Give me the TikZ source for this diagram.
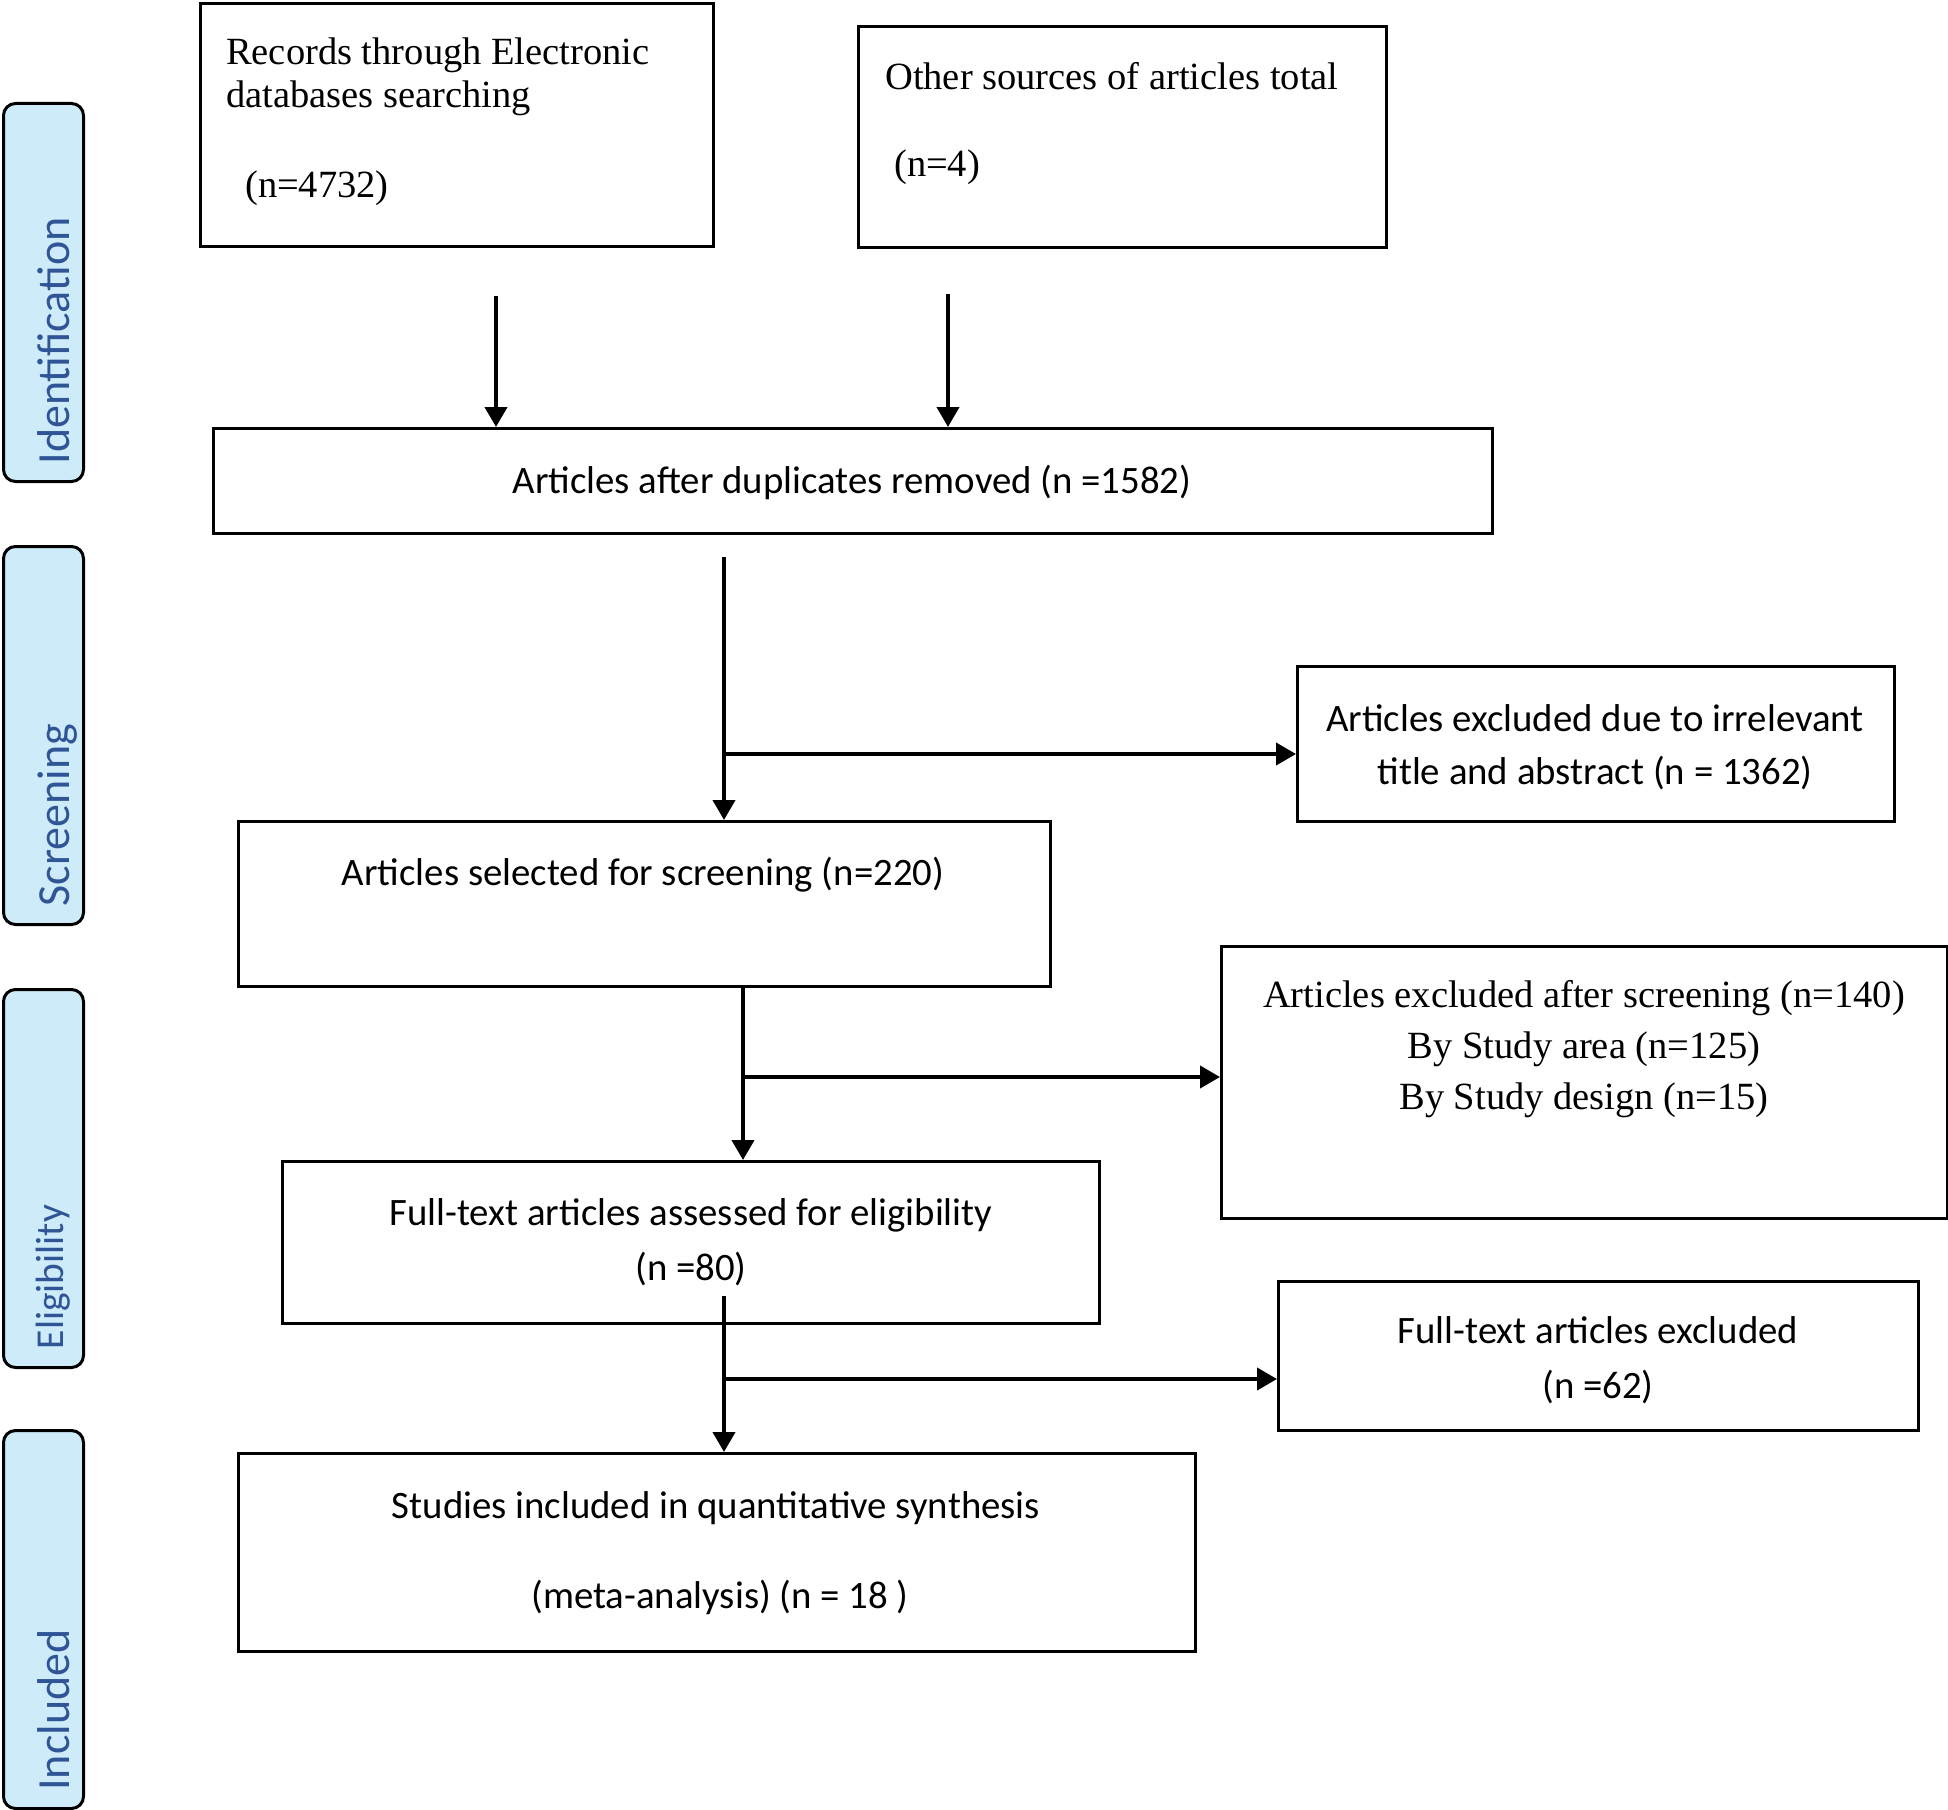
\documentclass[tikz,border=0pt]{standalone}
\usepackage{fontspec}
\usetikzlibrary{arrows.meta}
\newfontfamily\tnrfont{Liberation Serif}
\newfontfamily\calfont{Carlito}
\definecolor{tabfill}{RGB}{206,235,250}
\definecolor{tabtext}{RGB}{47,85,151}
\begin{document}
\begin{tikzpicture}[x=1pt,y=-1pt,
  box/.style={draw=black,line width=3pt,anchor=north west,inner sep=0pt},
  tab/.style={draw=black,line width=3pt,fill=tabfill,rounded corners=12pt,anchor=north west,inner sep=0pt,minimum width=80pt},
  tabtxt/.style={rotate=90,anchor=base,text=tabtext,font=\calfont\fontsize{46}{50}\selectfont,inner sep=0pt},
  ser/.style={font=\tnrfont\fontsize{38.5}{45}\selectfont,inner sep=0pt},
  sans/.style={font=\calfont\fontsize{38.8}{53}\selectfont,inner sep=0pt,align=center},
  arr/.style={line width=4pt,-{Triangle[length=20pt,width=22pt]}}]
\useasboundingbox (0,0) rectangle (1948,1809);
% tabs
\node[tab,minimum height=378pt] (t1) at (2,102) {};
\node[tab,minimum height=378pt] (t2) at (2,545) {};
\node[tab,minimum height=378pt] (t3) at (2,988) {};
\node[tab,minimum height=378pt] (t4) at (2,1429) {};
\node[tabtxt] (l1) at (69,341) {Identification};
\node[tabtxt] (l2) at (69,815) {Screening};
\node[tabtxt,font=\calfont\fontsize{39.5}{45}\selectfont] (l3) at (63,1277) {Eligibility};
\node[tabtxt] (l4) at (69,1710) {Included};
% boxes
\node[box,minimum width=513pt,minimum height=243pt] (b1) at (199,2) {};
\node[box,minimum width=528pt,minimum height=221pt] (b2) at (857,25) {};
\node[box,minimum width=1279pt,minimum height=105pt] (b3) at (212,427) {};
\node[box,minimum width=812pt,minimum height=165pt] (b4) at (237,820) {};
\node[box,minimum width=597pt,minimum height=155pt] (b5) at (1296,665) {};
\node[box,minimum width=726pt,minimum height=272pt] (b6) at (1220,945) {};
\node[box,minimum width=817pt,minimum height=162pt] (b7) at (281,1160) {};
\node[box,minimum width=640pt,minimum height=149pt] (b8) at (1277,1280) {};
\node[box,minimum width=957pt,minimum height=198pt] (b9) at (237,1452) {};
% texts
\node[ser,anchor=west] (x1a) at (226,55) {Records through Electronic};
\node[ser,anchor=west] (x1b) at (226,98) {databases searching};
\node[ser,anchor=west] (x1c) at (245,188) {(n=4732)};
\node[ser,anchor=west] (x2a) at (885,76) {Other sources of articles total};
\node[ser,anchor=west] (x2b) at (894,167) {(n=4)};
\node[sans] (x3) at (852,482) {Articles after duplicates removed (n =1582)};
\node[sans] (x5) at (1595,747) {Articles excluded due to irrelevant\\title and abstract (n = 1362)};
\node[sans] (x4) at (643,875) {Articles selected for screening (n=220)};
\node[ser,align=center,font=\tnrfont\fontsize{38.5}{51}\selectfont] (x6) at (1584,1049) {Articles excluded after screening (n=140)\\By Study area (n=125)\\By Study design (n=15)};
\node[sans,font=\calfont\fontsize{38.8}{55}\selectfont] (x7) at (691,1242) {Full-text articles assessed for eligibility\\(n =80)};
\node[sans,font=\calfont\fontsize{38.8}{55}\selectfont] (x8) at (1598,1360) {Full-text articles excluded\\(n =62)};
\node[sans] (x9a) at (716,1508) {Studies included in quantitative synthesis};
\node[sans] (x9b) at (720,1597) {(meta-analysis) (n = 18 )};
% connectors
\coordinate (s1) at (496,296);
\coordinate (s2) at (948,294);
\draw[arr] (s1) -- (s1 |- b3.north);
\draw[arr] (s2) -- (s2 |- b3.north);
\coordinate (m1) at (724,557);
\coordinate (j1) at (724,754);
\draw[arr] (m1) -- (m1 |- b4.north);
\draw[arr] (j1) -- (j1 -| b5.west);
\coordinate (m2) at (743,985);
\coordinate (j2) at (743,1077);
\draw[arr] (m2) -- (m2 |- b7.north);
\draw[arr] (j2) -- (j2 -| b6.west);
\coordinate (m3) at (724,1296);
\coordinate (j3) at (724,1379);
\draw[arr] (m3) -- (m3 |- b9.north);
\draw[arr] (j3) -- (j3 -| b8.west);
\end{tikzpicture}
\end{document}
